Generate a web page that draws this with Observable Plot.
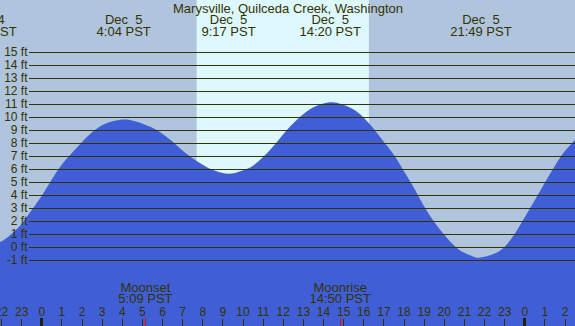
<!DOCTYPE html>
<html><head><meta charset="utf-8">
<script src="https://cdn.jsdelivr.net/npm/d3@7"></script>
<script src="https://cdn.jsdelivr.net/npm/@observablehq/plot@0.6"></script>
<style>
html,body{margin:0;padding:0;background:#b0c4de;}
svg{display:block;}
svg text{white-space:pre;}
</style></head><body><div id="chart"></div>
<script>
const title = "Marysville, Quilceda Creek, Washington";
// tide heights (hours from Dec 5 00:00, feet)
const tideHours = [-2.77, -2.05, -1.5, -1, -0.5, 0, 0.5, 1, 1.5, 2, 2.5, 3, 3.5, 4.07, 4.5, 5, 5.5, 6, 6.5, 7, 7.5, 8, 8.5, 9.28, 10, 10.5, 11, 11.5, 12, 12.5, 13, 13.5, 14.33, 15, 15.5, 16, 16.5, 17, 17.5, 18, 18.5, 19, 19.5, 20, 20.5, 21, 21.5, 21.82, 22.5, 23, 23.5, 24, 24.5, 25, 25.5, 26, 26.6];
const tideFeet  = [0.05, 0.35, 0.95, 1.7, 2.75, 3.85, 5.1, 6.25, 7.15, 8.0, 8.75, 9.3, 9.62, 9.77, 9.7, 9.47, 9.15, 8.7, 8.1, 7.4, 6.8, 6.3, 5.9, 5.6, 5.85, 6.2, 6.85, 7.65, 8.6, 9.45, 10.15, 10.7, 11.1, 10.9, 10.55, 9.95, 9.1, 8.1, 7.1, 5.85, 4.55, 3.15, 1.95, 0.95, 0.1, -0.47, -0.79, -0.85, -0.56, -0.05, 0.92, 2.2, 3.5, 4.85, 6.15, 7.3, 8.35];
const extremeHours = [-2.77, 4.07, 9.28, 14.33, 21.82];
const extremeDates = ["Dec  4", "Dec  5", "Dec  5", "Dec  5", "Dec  5"];
const extremeTimes = ["21:14 PST", "4:04 PST", "9:17 PST", "14:20 PST", "21:49 PST"];
const moonHours = [5.15, 14.83];
const moonNames = ["Moonset", "Moonrise"];
const moonTimes = ["5:09 PST", "14:50 PST"];
const sunriseHour = 7.72, sunsetHour = 16.28;
const feetTicks = d3.range(-1, 16);
const hourTicks = d3.range(-2, 27);

const W = 575, H = 326;
const xDomain = [-2.05, 26.52];
const yDomain = [-6.115, 18.962];
const gridStartPx = 29;
const gridStart = xDomain[0] + (xDomain[1] - xDomain[0]) * gridStartPx / W;

const tide = tideHours.map((h, i) => ({h, ft: tideFeet[i]}));
const extremes = extremeHours.map((h, i) => ({h, label: extremeDates[i] + "\n" + extremeTimes[i]}));
const moons = moonHours.map((h, i) => ({h, label: moonNames[i] + "\n" + moonTimes[i]}));
const ink = "#333300";

const chart = Plot.plot({
  width: W, height: H, margin: 0,
  x: {domain: xDomain, axis: null},
  y: {domain: yDomain, axis: null},
  style: {background: "#b0c4de", fontFamily: "'Liberation Sans', Arial, sans-serif", color: ink},
  marks: [
    Plot.rect([{a: sunriseHour, b: sunsetHour}], {x1: "a", x2: "b", fill: "#ddf8ff"}),
    Plot.area(tide, {x1: "h", y1: yDomain[0], y2: "ft", curve: "natural", fill: "#405fd6", clip: true}),
    Plot.ruleY(feetTicks, {y: d => d, x1: gridStart, x2: xDomain[1], stroke: ink, strokeWidth: 1, shapeRendering: "crispEdges"}),
    Plot.text(feetTicks, {y: d => d, frameAnchor: "left", dx: 27, textAnchor: "end", text: d => `${d} ft`, fontSize: 12, fill: ink}),
    Plot.text([title], {frameAnchor: "top", dy: 3.3, lineAnchor: "top", text: d => d, fontSize: 13, fill: ink}),
    Plot.text(extremes, {x: "h", frameAnchor: "top", dy: 15, lineAnchor: "top", text: "label", fontSize: 13, lineHeight: 0.9, fill: ink}),
    Plot.text(moons, {x: "h", frameAnchor: "top", dy: 283.3, lineAnchor: "top", text: "label", fontSize: 13, lineHeight: 0.85, fill: ink}),
    Plot.ruleX(hourTicks.filter(d => d % 24 !== 0), {x: d => d, insetTop: 319, stroke: ink, strokeWidth: 1, shapeRendering: "crispEdges"}),
    Plot.ruleX(hourTicks.filter(d => d % 24 === 0), {x: d => d, insetTop: 318, stroke: "#222200", strokeWidth: 3, shapeRendering: "crispEdges"}),
    Plot.ruleX(moonHours, {x: d => d, insetTop: 318, stroke: "#ff0000", strokeWidth: 1, shapeRendering: "crispEdges"}),
    Plot.text(hourTicks, {x: d => d, frameAnchor: "top", dy: 307.3, lineAnchor: "top", text: d => String(((d % 24) + 24) % 24), fontSize: 12, fill: ink})
  ]
});
document.getElementById("chart").appendChild(chart);
</script>
</body></html>
